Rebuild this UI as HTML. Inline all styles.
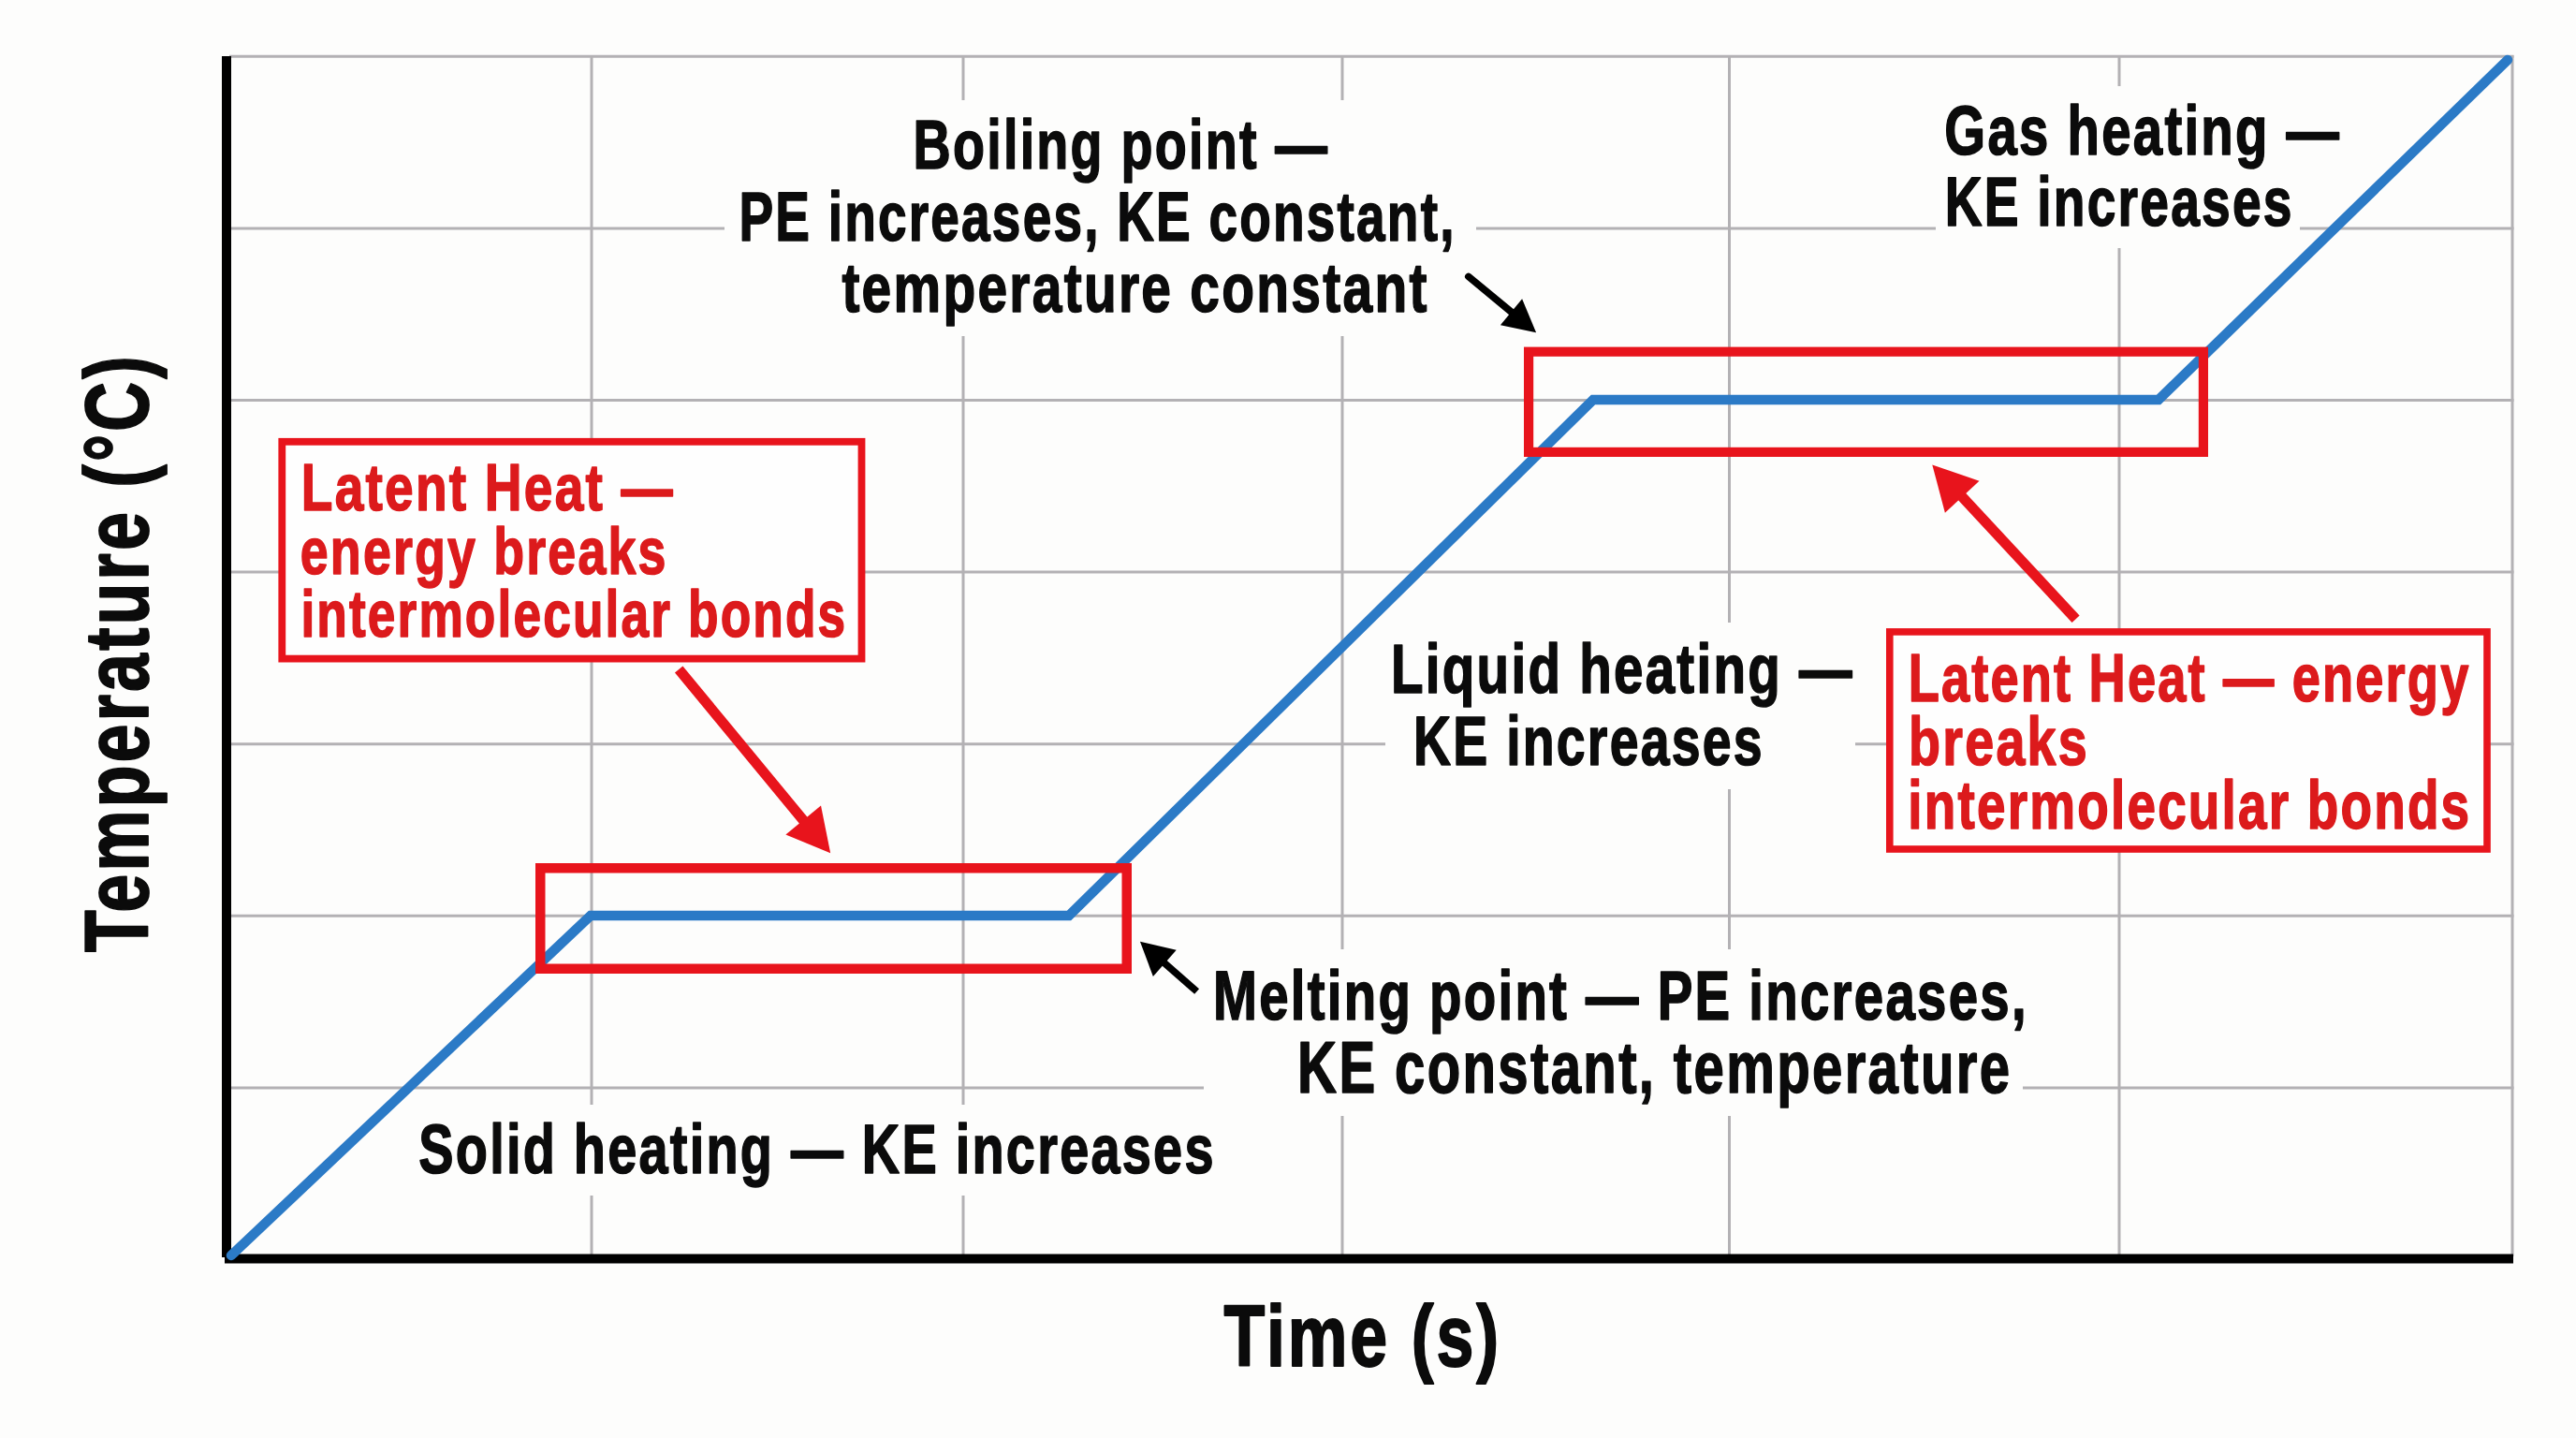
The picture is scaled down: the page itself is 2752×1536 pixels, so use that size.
<!DOCTYPE html>
<html><head><meta charset="utf-8"><style>
html,body{margin:0;padding:0;background:#fdfdfc;}
body{width:2752px;height:1536px;overflow:hidden;}
svg{display:block;}
text{font-family:"Liberation Sans",sans-serif;font-weight:bold;}
</style></head><body>
<svg width="2752" height="1536" viewBox="0 0 2752 1536">
<rect x="0" y="0" width="2752" height="1536" fill="#fdfdfc"/>

<g stroke="#b3b1b4" stroke-width="3" fill="none">
<line x1="245" y1="60.3" x2="2685.5" y2="60.3"/>
<line x1="245" y1="243.9" x2="2685.5" y2="243.9"/>
<line x1="245" y1="427.5" x2="2685.5" y2="427.5"/>
<line x1="245" y1="611.1" x2="2685.5" y2="611.1"/>
<line x1="245" y1="794.7" x2="2685.5" y2="794.7"/>
<line x1="245" y1="978.3" x2="2685.5" y2="978.3"/>
<line x1="245" y1="1161.9" x2="2685.5" y2="1161.9"/>
<line x1="632" y1="59" x2="632" y2="1342"/>
<line x1="1029" y1="59" x2="1029" y2="1342"/>
<line x1="1434" y1="59" x2="1434" y2="1342"/>
<line x1="1847.5" y1="59" x2="1847.5" y2="1342"/>
<line x1="2264" y1="59" x2="2264" y2="1342"/>
<line x1="2684" y1="59" x2="2684" y2="1342"/>
</g>
<g fill="#fdfdfc">
<rect x="774" y="107" width="803" height="252"/>
<rect x="2068" y="92" width="389" height="173"/>
<rect x="1480" y="665" width="502" height="178"/>
<rect x="1286" y="1014" width="875" height="178"/>
<rect x="440" y="1180" width="860" height="97"/>
</g>
<rect x="237" y="60" width="10" height="1283" fill="#000"/>
<rect x="240" y="1339.5" width="2445" height="10" fill="#000"/>
<polyline points="247,1341 631,978 1142,978 1702,427 2306,427 2679,64" fill="none" stroke="#2b7ac6" stroke-width="10.5" stroke-linejoin="miter" stroke-linecap="round"/>
<rect x="577.25" y="927.25" width="626.5" height="107.5" fill="none" stroke="#e8141c" stroke-width="10.5"/>
<rect x="1633.1" y="375.70000000000005" width="720.8" height="107.19999999999997" fill="none" stroke="#e8141c" stroke-width="10.2"/>
<rect x="301.29999999999995" y="471.79999999999995" width="619.2" height="231.8" fill="#fefefe" stroke="#e8141c" stroke-width="7.8"/>
<rect x="2018.8" y="674.9" width="638.2000000000002" height="232.09999999999994" fill="#fefefe" stroke="#e8141c" stroke-width="7.6"/>
<line x1="1568.8" y1="295.4" x2="1616.1" y2="334.5" stroke="#000" stroke-width="7.6" stroke-linecap="round"/><polygon points="1641.1,355.2 1602.9,347.2 1626.1,319.2" fill="#000"/>
<line x1="1278.6" y1="1059.0" x2="1242.8" y2="1027.6" stroke="#000" stroke-width="7.4" stroke-linecap="butt"/><polygon points="1218.0,1005.8 1256.7,1014.8 1231.9,1043.0" fill="#000"/>
<line x1="725.2" y1="715.0" x2="859.5" y2="877.7" stroke="#e8141c" stroke-width="11" stroke-linecap="butt"/><polygon points="887.2,911.2 839.4,891.6 877.0,860.6" fill="#e8141c"/>
<line x1="2217.6" y1="661.2" x2="2094.9" y2="529.3" stroke="#e8141c" stroke-width="11" stroke-linecap="butt"/><polygon points="2064.3,496.4 2114.5,513.7 2077.9,547.8" fill="#e8141c"/>
<text x="975.57" y="180.2" font-size="73.4" fill="#0b0b0b" stroke="#0b0b0b" stroke-width="1.6" stroke-linejoin="round" letter-spacing="2.94" textLength="444.70" lengthAdjust="spacingAndGlyphs">Boiling point —</text>
<text x="789.44" y="256.7" font-size="74.42" fill="#0b0b0b" stroke="#0b0b0b" stroke-width="1.6" stroke-linejoin="round" letter-spacing="2.98" textLength="766.21" lengthAdjust="spacingAndGlyphs">PE increases, KE constant,</text>
<text x="899.40" y="332.7" font-size="73.98" fill="#0b0b0b" stroke="#0b0b0b" stroke-width="1.6" stroke-linejoin="round" letter-spacing="2.96" textLength="627.26" lengthAdjust="spacingAndGlyphs">temperature constant</text>
<text x="2077.34" y="164.7" font-size="74.71" fill="#0b0b0b" stroke="#0b0b0b" stroke-width="1.6" stroke-linejoin="round" letter-spacing="2.99" textLength="423.89" lengthAdjust="spacingAndGlyphs">Gas heating —</text>
<text x="2077.63" y="241.1" font-size="74.27" fill="#0b0b0b" stroke="#0b0b0b" stroke-width="1.6" stroke-linejoin="round" letter-spacing="2.97" textLength="373.08" lengthAdjust="spacingAndGlyphs">KE increases</text>
<text x="321.80" y="545.1" font-size="71.08" fill="#dc1a1c" stroke="#dc1a1c" stroke-width="1.6" stroke-linejoin="round" letter-spacing="2.84" textLength="399.09" lengthAdjust="spacingAndGlyphs">Latent Heat —</text>
<text x="320.79" y="612.8" font-size="71.08" fill="#dc1a1c" stroke="#dc1a1c" stroke-width="1.6" stroke-linejoin="round" letter-spacing="2.84" textLength="392.88" lengthAdjust="spacingAndGlyphs">energy breaks</text>
<text x="321.40" y="680.2" font-size="71.08" fill="#dc1a1c" stroke="#dc1a1c" stroke-width="1.6" stroke-linejoin="round" letter-spacing="2.84" textLength="583.92" lengthAdjust="spacingAndGlyphs">intermolecular bonds</text>
<text x="2038.67" y="749.0" font-size="71.51" fill="#dc1a1c" stroke="#dc1a1c" stroke-width="1.6" stroke-linejoin="round" letter-spacing="2.86" textLength="600.82" lengthAdjust="spacingAndGlyphs">Latent Heat — energy</text>
<text x="2039.09" y="816.8" font-size="71.51" fill="#dc1a1c" stroke="#dc1a1c" stroke-width="1.6" stroke-linejoin="round" letter-spacing="2.86" textLength="192.89" lengthAdjust="spacingAndGlyphs">breaks</text>
<text x="2038.36" y="884.9" font-size="71.51" fill="#dc1a1c" stroke="#dc1a1c" stroke-width="1.6" stroke-linejoin="round" letter-spacing="2.86" textLength="601.96" lengthAdjust="spacingAndGlyphs">intermolecular bonds</text>
<text x="1486.05" y="740.2" font-size="74.27" fill="#0b0b0b" stroke="#0b0b0b" stroke-width="1.6" stroke-linejoin="round" letter-spacing="2.97" textLength="494.74" lengthAdjust="spacingAndGlyphs">Liquid heating —</text>
<text x="1510.11" y="817.2" font-size="75.0" fill="#0b0b0b" stroke="#0b0b0b" stroke-width="1.6" stroke-linejoin="round" letter-spacing="3.00" textLength="374.71" lengthAdjust="spacingAndGlyphs">KE increases</text>
<text x="1295.94" y="1088.9" font-size="73.69" fill="#0b0b0b" stroke="#0b0b0b" stroke-width="1.6" stroke-linejoin="round" letter-spacing="2.95" textLength="870.94" lengthAdjust="spacingAndGlyphs">Melting point — PE increases,</text>
<text x="1386.09" y="1167.1" font-size="78.34" fill="#0b0b0b" stroke="#0b0b0b" stroke-width="1.6" stroke-linejoin="round" letter-spacing="3.13" textLength="763.34" lengthAdjust="spacingAndGlyphs">KE constant, temperature</text>
<text x="447.31" y="1253.2" font-size="75.0" fill="#0b0b0b" stroke="#0b0b0b" stroke-width="1.6" stroke-linejoin="round" letter-spacing="3.00" textLength="851.45" lengthAdjust="spacingAndGlyphs">Solid heating — KE increases</text>
<text x="1307.53" y="1459.0" font-size="93.6" fill="#0b0b0b" stroke="#0b0b0b" stroke-width="2.0" stroke-linejoin="round" letter-spacing="3.74" textLength="296.53" lengthAdjust="spacingAndGlyphs">Time (s)</text>
<text transform="translate(158.4,1017.16) rotate(-90)" x="0" y="0" font-size="97.09" fill="#0b0b0b" stroke="#0b0b0b" stroke-width="1.8" stroke-linejoin="round" letter-spacing="3.88" textLength="639.79" lengthAdjust="spacingAndGlyphs">Temperature (°C)</text>
</svg></body></html>
